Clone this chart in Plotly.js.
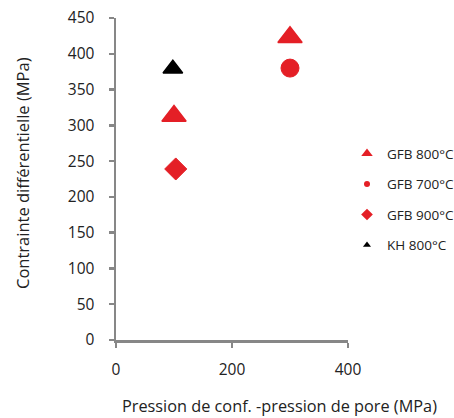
<!DOCTYPE html>
<html>
<head>
<meta charset="utf-8">
<script src="https://cdn.plot.ly/plotly-3.0.1.min.js"></script>
<style>html,body{margin:0;padding:0;background:#fff;overflow:hidden;}#wrap{width:454px;height:418px;overflow:hidden;}#chart{width:520px;height:418px;}</style>
</head>
<body>
<div id="wrap"><div id="chart"></div></div>
<script>
// Data
const seriesNames = ['GFB 800°C', 'GFB 700°C', 'GFB 900°C', 'KH 800°C'];
const gfb800_x = [100, 300];
const gfb800_y = [313, 423];
const gfb700_x = [300];
const gfb700_y = [380];
const gfb900_x = [103];
const gfb900_y = [239];
const kh800_x = [98];
const kh800_y = [379];
const yTicks = [0, 50, 100, 150, 200, 250, 300, 350, 400, 450];
const xTicks = [0, 200, 400];
const xTitle = 'Pression de conf. -pression de pore (MPa)';
const yTitle = 'Contrainte différentielle (MPa)';

const red = '#e41f26';
const FONT = 'Open Sans, sans-serif';
const W = 520, PW = W - 116;

const specs = [
  {x: gfb800_x, y: gfb800_y, sym: 'triangle-up', size: 21, lw: 1.5, col: red, lsize: 10},
  {x: gfb700_x, y: gfb700_y, sym: 'circle', size: 18, lw: 1, col: red, lsize: 6},
  {x: gfb900_x, y: gfb900_y, sym: 'diamond', size: 17, lw: 1, col: red, lsize: 9},
  {x: kh800_x, y: kh800_y, sym: 'triangle-up', size: 17, lw: 1.5, col: '#000', lsize: 7}
];

const traces = [];
specs.forEach((s, i) => {
  traces.push({x: s.x, y: s.y, name: seriesNames[i], mode: 'markers', type: 'scatter', showlegend: false,
    marker: {symbol: s.sym, size: s.size, color: s.col, line: {color: s.col, width: s.lw}}});
});
// legend entries (smaller symbols, as in the reference)
specs.forEach((s, i) => {
  traces.push({x: [null], y: [null], name: seriesNames[i], legendgroup: 'g' + i, mode: 'markers', type: 'scatter',
    marker: {symbol: s.sym, size: s.lsize, color: s.col, line: {width: 0}}});
});

const axisCommon = {
  showline: true, linecolor: '#878787', linewidth: 2.5,
  ticks: 'outside', ticklen: 5, tickwidth: 2.5, tickcolor: '#878787',
  showgrid: false, zeroline: false,
  tickfont: {family: FONT, size: 15.5, color: '#222'}
};

const layout = {
  width: W, height: 418,
  margin: {l: 116, r: 0, t: 18, b: 78},
  paper_bgcolor: '#fff', plot_bgcolor: '#fff',
  showlegend: true,
  font: {family: FONT, color: '#222'},
  xaxis: Object.assign({}, axisCommon, {
    domain: [0, 232 / PW],
    range: [0, 400], tickvals: xTicks, ticktext: xTicks.map(String), ticklabelstandoff: 9
  }),
  yaxis: Object.assign({}, axisCommon, {
    range: [0, 450], tickvals: yTicks, ticktext: yTicks.map(String), ticklabelstandoff: 11
  }),
  legend: {
    x: (347 - 116) / PW, y: 0.627, xanchor: 'left', yanchor: 'top',
    font: {family: FONT, size: 13.5, color: '#222'},
    itemsizing: 'trace', tracegroupgap: 10, bgcolor: 'rgba(0,0,0,0)'
  },
  annotations: [{
    text: xTitle, xref: 'paper', yref: 'paper',
    x: (279 - 116) / PW, y: -66 / 322, xanchor: 'center', yanchor: 'middle', showarrow: false,
    borderpad: 0,
    font: {family: FONT, size: 16.3, color: '#222'}
  }, {
    text: yTitle, xref: 'paper', yref: 'paper', textangle: -90,
    x: (22 - 116) / PW, y: (340 - 173) / 322, xanchor: 'center', yanchor: 'middle', showarrow: false,
    font: {family: FONT, size: 16.5, color: '#222'}
  }]
};

Plotly.newPlot('chart', traces, layout, {displayModeBar: false, staticPlot: true});
</script>
</body>
</html>
